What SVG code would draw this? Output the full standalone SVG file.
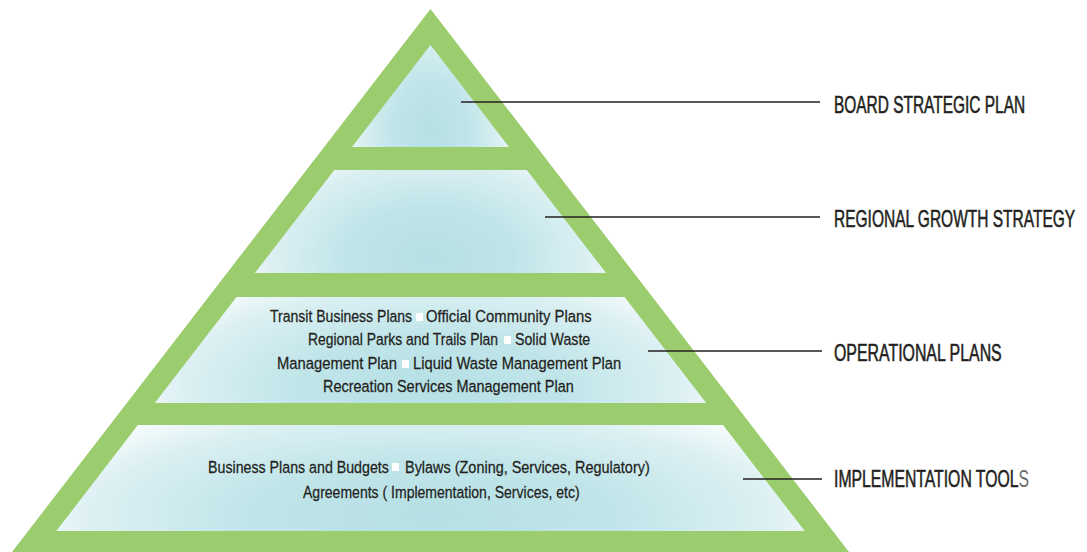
<svg xmlns="http://www.w3.org/2000/svg" width="1087" height="552" viewBox="0 0 1087 552">
<style>
.lbl{font-family:"Liberation Sans",Arial,sans-serif;font-size:23px;fill:#231f20;stroke:#231f20;stroke-width:0.55}
.body{font-family:"Liberation Sans",Arial,sans-serif;font-size:17px;fill:#231f20;stroke:#231f20;stroke-width:0.25}
.conn{stroke:#231f20;stroke-width:1.6;fill:none}
.tier{fill:url(#tealGlow)}
.bul{fill:#ffffff}
</style>
<defs>
<radialGradient id="tealGlow" cx="0.5" cy="0.85" r="1" fx="0.5" fy="0.85" gradientTransform="translate(0.5,0.85) scale(0.6,1.25) translate(-0.5,-0.85)">
<stop offset="0" stop-color="#b6e0e5"/>
<stop offset="0.4" stop-color="#c0e5e9"/>
<stop offset="0.75" stop-color="#dcf0f3"/>
<stop offset="1" stop-color="#ffffff"/>
</radialGradient>
</defs>
<rect width="1087" height="552" fill="#ffffff"/>
<polygon id="pyramid-frame" points="430.5,9 12,552 849,552" fill="#9bcd6f"/>

<g id="board-strategic-plan">
<polygon class="tier" points="430.5,45 352,147 509,147"/>
<text class="lbl" transform="translate(834,113) scale(0.65,1)" textLength="294" lengthAdjust="spacingAndGlyphs">BOARD STRATEGIC PLAN</text>
</g>

<g id="regional-growth-strategy">
<polygon class="tier" points="334.3,170 526.7,170 606.1,273 254.9,273"/>
<text class="lbl" transform="translate(834,227) scale(0.65,1)" textLength="371" lengthAdjust="spacingAndGlyphs">REGIONAL GROWTH STRATEGY</text>
</g>

<g id="operational-plans">
<polygon class="tier" points="236.5,297 624.5,297 706.2,403 154.8,403"/>
<text class="body" transform="translate(270,322) scale(0.76,1)" textLength="187" lengthAdjust="spacingAndGlyphs">Transit Business Plans</text>
<rect class="bul" x="416" y="313" width="7" height="8"/>
<text class="body" transform="translate(426,322) scale(0.76,1)" textLength="218" lengthAdjust="spacingAndGlyphs">Official Community Plans</text>
<text class="body" transform="translate(308,345) scale(0.76,1)" textLength="250" lengthAdjust="spacingAndGlyphs">Regional Parks and Trails Plan</text>
<rect class="bul" x="504" y="336" width="7" height="8"/>
<text class="body" transform="translate(515,345) scale(0.76,1)" textLength="99" lengthAdjust="spacingAndGlyphs">Solid Waste</text>
<text class="body" transform="translate(277,369) scale(0.76,1)" textLength="158" lengthAdjust="spacingAndGlyphs">Management Plan</text>
<rect class="bul" x="402" y="360" width="7" height="8"/>
<text class="body" transform="translate(413,369) scale(0.76,1)" textLength="274" lengthAdjust="spacingAndGlyphs">Liquid Waste Management Plan</text>
<text class="body" transform="translate(323,392) scale(0.76,1)" textLength="330" lengthAdjust="spacingAndGlyphs">Recreation Services Management Plan</text>
<text class="lbl" transform="translate(834,361) scale(0.65,1)" textLength="258" lengthAdjust="spacingAndGlyphs">OPERATIONAL PLANS</text>
</g>

<g id="implementation-tools">
<polygon class="tier" points="137.9,425 723.1,425 804.7,531 56.3,531"/>
<text class="body" transform="translate(208,473) scale(0.76,1)" textLength="238" lengthAdjust="spacingAndGlyphs">Business Plans and Budgets</text>
<rect class="bul" x="392" y="463" width="7" height="8"/>
<text class="body" transform="translate(405,473) scale(0.76,1)" textLength="322" lengthAdjust="spacingAndGlyphs">Bylaws (Zoning, Services, Regulatory)</text>
<text class="body" transform="translate(303,498) scale(0.76,1)" textLength="364" lengthAdjust="spacingAndGlyphs">Agreements ( Implementation, Services, etc)</text>
<text class="lbl" transform="translate(834,487) scale(0.65,1)" textLength="300" lengthAdjust="spacingAndGlyphs">IMPLEMENTATION TOOL<tspan fill="#6b6b6b" stroke="none">S</tspan></text>
</g>

<g id="connectors">
<line class="conn" x1="461" y1="102" x2="820" y2="102"/>
<line class="conn" x1="545" y1="217" x2="820" y2="217"/>
<line class="conn" x1="648" y1="351" x2="822" y2="351"/>
<line class="conn" x1="743" y1="479" x2="822" y2="479"/>
</g>
</svg>
